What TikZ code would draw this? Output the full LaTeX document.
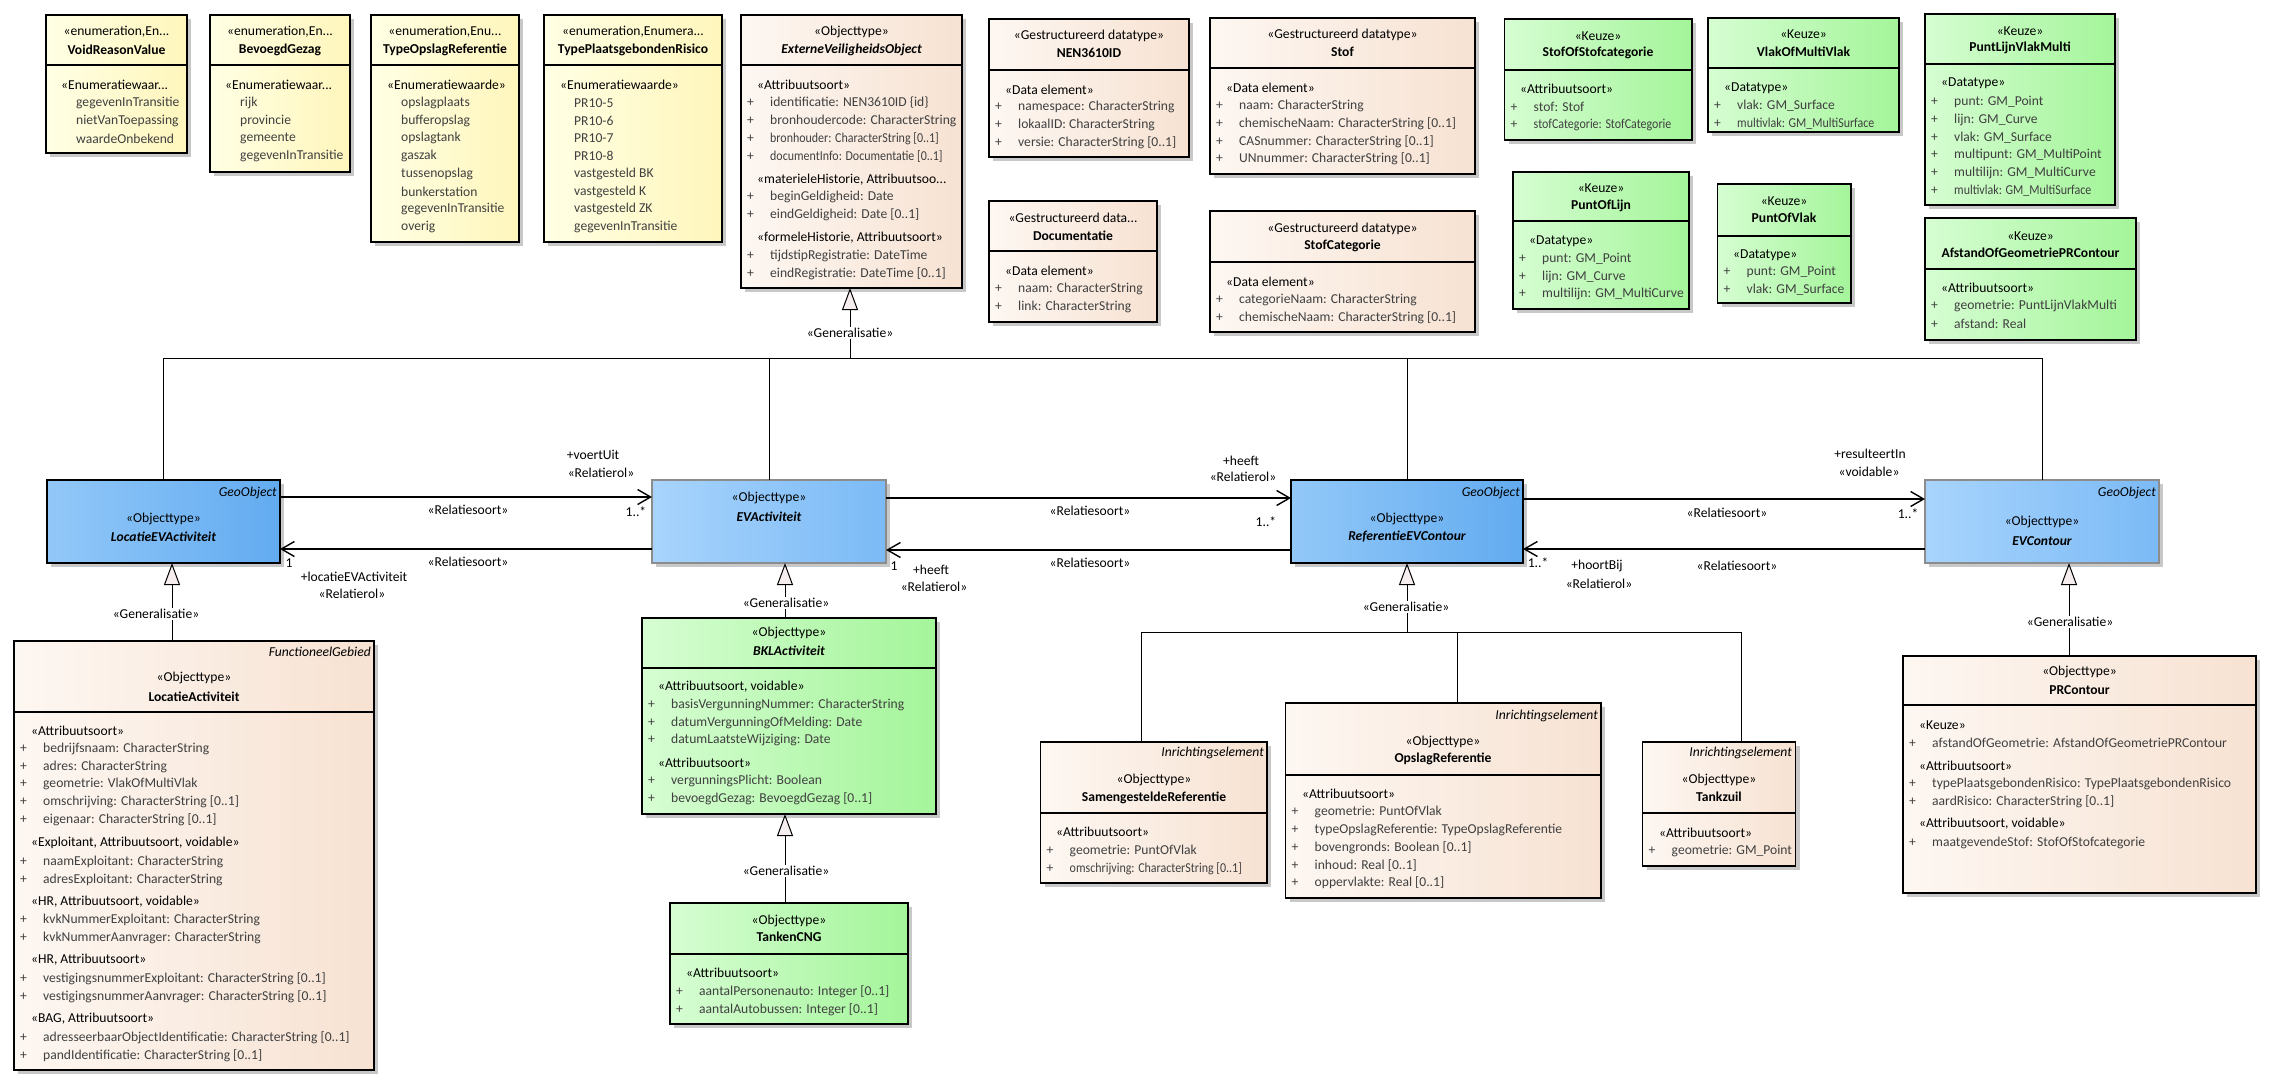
\documentclass[tikz,border=0pt]{standalone}
\usepackage{fontspec}
\setmainfont{Carlito}
\newfontfamily\nf[FakeStretch=0.88]{Carlito}
\usetikzlibrary{arrows.meta,calc}
\definecolor{enumL}{HTML}{FFFFE4}
\definecolor{enumR}{HTML}{FFF6BC}
\definecolor{brL}{HTML}{FDF7F2}
\definecolor{brR}{HTML}{F7E2D2}
\definecolor{grL}{HTML}{D6FDD2}
\definecolor{grR}{HTML}{A4F59A}
\definecolor{bdL}{HTML}{92C8F8}
\definecolor{bdR}{HTML}{62ABF0}
\definecolor{blL}{HTML}{A8D4FC}
\definecolor{blR}{HTML}{7BBAF6}
\definecolor{shad}{HTML}{C8C8C8}
\definecolor{genfill}{HTML}{F6EEEE}
\definecolor{attrc}{HTML}{404040}
\newcommand\dfont{\fontsize{13.6}{16}\selectfont}
\newcommand\ubox[6]{%
  \fill[shad] ({#3+4},{#4+4}) rectangle ++(#5,#6);
  \node[#2, minimum width=#5pt, minimum height=#6pt] (#1) at (#3,#4) {};}
\newcommand\udiv[2]{\draw[divl] ($(#1.north west)+(0,#2)$) -- ($(#1.north east)+(0,#2)$);}
\newcommand\attrs[4]{%
  \foreach \itm [count=\i] in {#4}{%
    \node[attr] (#1\i) at ({#2},{#3+17.7*(\i-1)}) {\makebox[23pt][l]{+}\itm};}}
\newcommand\vals[4]{%
  \foreach \itm [count=\i] in {#4}{%
    \node[val] (#1\i) at ({#2},{#3+17.7*(\i-1)}) {\itm};}}
\begin{document}
\begin{tikzpicture}[x=1pt,y=-1pt,
  box/.style={draw=black, line width=1.3pt, inner sep=0pt, outer sep=0pt, anchor=north west},
  enumbox/.style={box, left color=enumL, right color=enumR},
  brbox/.style={box, left color=brL, right color=brR},
  grbox/.style={box, left color=grL, right color=grR},
  bdbox/.style={box, left color=bdL, right color=bdR},
  blbox/.style={box, draw=black!45, left color=blL, right color=blR},
  divl/.style={line width=1.3pt},
  attr/.style={anchor=west, inner sep=0pt, font=\dfont, text=attrc},
  val/.style={anchor=west, inner sep=0pt, font=\dfont, text=attrc},
  sect/.style={anchor=west, inner sep=0pt, font=\dfont},
  stereo/.style={inner sep=0pt, font=\dfont},
  cname/.style={inner sep=0pt, font=\dfont\bfseries},
  aname/.style={inner sep=0pt, font=\dfont\bfseries\itshape},
  tag/.style={anchor=east, inner sep=0pt, font=\dfont\itshape},
  lbl/.style={inner sep=1pt, font=\dfont},
  glbl/.style={inner sep=1.5pt, font=\dfont, fill=white},
  assoc/.style={line width=1.4pt, -{Straight Barb[length=13pt,width=15pt,line width=1.4pt]}},
  gen/.style={line width=1pt, -{Triangle[length=22pt,width=16pt,fill=genfill,line width=1pt]}},
  genl/.style={line width=1pt}
]
\useasboundingbox (0,0) rectangle (2281,1089);
\fill[white] (0,0) rectangle (2281,1089);

% ---------- enumerations
\ubox{void}{enumbox}{46}{15}{141}{138}\udiv{void}{50}
\node[stereo] (void-s) at (116.5,32) {«enumeration,En...};
\node[cname] (void-n) at (116.5,50) {VoidReasonValue};
\node[sect] (void-h) at (61,85) {«Enumeratiewaar...};
\vals{void-v}{76}{103}{gegevenInTransitie,nietVanToepassing,waardeOnbekend}

\ubox{bev}{enumbox}{210}{15}{140}{157}\udiv{bev}{50}
\node[stereo] (bev-s) at (280,32) {«enumeration,En...};
\node[cname] (bev-n) at (280,50) {BevoegdGezag};
\node[sect] (bev-h) at (225,85) {«Enumeratiewaar...};
\vals{bev-v}{240}{103}{rijk,provincie,gemeente,gegevenInTransitie}

\ubox{tor}{enumbox}{371}{15}{148}{227}\udiv{tor}{50}
\node[stereo] (tor-s) at (445,32) {«enumeration,Enu...};
\node[cname] (tor-n) at (445,50) {TypeOpslagReferentie};
\node[sect] (tor-h) at (387,85) {«Enumeratiewaarde»};
\vals{tor-v}{401}{103}{opslagplaats,bufferopslag,opslagtank,gaszak,tussenopslag,bunkerstation,gegevenInTransitie,overig}

\ubox{tpr}{enumbox}{544}{15}{178}{227}\udiv{tpr}{50}
\node[stereo] (tpr-s) at (633,32) {«enumeration,Enumera...};
\node[cname] (tpr-n) at (633,50) {TypePlaatsgebondenRisico};
\node[sect] (tpr-h) at (560,85) {«Enumeratiewaarde»};
\vals{tpr-v}{574}{103}{PR10-5,PR10-6,PR10-7,PR10-8,vastgesteld BK,vastgesteld K,vastgesteld ZK,gegevenInTransitie}

% ---------- ExterneVeiligheidsObject
\ubox{evo}{brbox}{741}{15}{221}{273}\udiv{evo}{50}
\node[stereo] (evo-s) at (851.5,32) {«Objecttype»};
\node[aname] (evo-n) at (851.5,50) {ExterneVeiligheidsObject};
\node[sect] (evo-h1) at (757,85) {«Attribuutsoort»};
\attrs{evo-a}{747}{103}{identificatie: NEN3610ID \{id\},bronhoudercode: CharacterString,\nf bronhouder: CharacterString [0..1],\nf documentInfo: Documentatie [0..1]}
\node[sect] (evo-h2) at (757,180) {«materieleHistorie, Attribuutsoo...};
\attrs{evo-b}{747}{197}{beginGeldigheid: Date,eindGeldigheid: Date [0..1]}
\node[sect] (evo-h3) at (757,238) {«formeleHistorie, Attribuutsoort»};
\attrs{evo-c}{747}{256}{tijdstipRegistratie: DateTime,eindRegistratie: DateTime [0..1]}

% ---------- datatypes
\ubox{nen}{brbox}{989}{19}{200}{138}\udiv{nen}{51}
\node[stereo] (nen-s) at (1089,36) {«Gestructureerd datatype»};
\node[cname] (nen-n) at (1089,53) {NEN3610ID};
\node[sect] (nen-h) at (1005,90) {«Data element»};
\attrs{nen-a}{995}{107}{namespace: CharacterString,lokaalID: CharacterString,versie: CharacterString [0..1]}

\ubox{stof}{brbox}{1210}{18}{265}{156}\udiv{stof}{50}
\node[stereo] (stof-s) at (1342.5,35) {«Gestructureerd datatype»};
\node[cname] (stof-n) at (1342.5,52) {Stof};
\node[sect] (stof-h) at (1226,88) {«Data element»};
\attrs{stof-a}{1216}{106}{naam: CharacterString,chemischeNaam: CharacterString [0..1],CASnummer: CharacterString [0..1],UNnummer: CharacterString [0..1]}

\ubox{doc}{brbox}{989}{201}{168}{121}\udiv{doc}{50}
\node[stereo] (doc-s) at (1073,218) {«Gestructureerd data...};
\node[cname] (doc-n) at (1073,236) {Documentatie};
\node[sect] (doc-h) at (1005,271) {«Data element»};
\attrs{doc-a}{995}{289}{naam: CharacterString,link: CharacterString}

\ubox{stc}{brbox}{1210}{211}{265}{121}\udiv{stc}{51}
\node[stereo] (stc-s) at (1342.5,229) {«Gestructureerd datatype»};
\node[cname] (stc-n) at (1342.5,246) {StofCategorie};
\node[sect] (stc-h) at (1226,282) {«Data element»};
\attrs{stc-a}{1216}{300}{categorieNaam: CharacterString,chemischeNaam: CharacterString [0..1]}

% ---------- Keuze
\ubox{sos}{grbox}{1504.5}{19}{187.5}{121}\udiv{sos}{51}
\node[stereo] (sos-s) at (1598,36) {«Keuze»};
\node[cname] (sos-n) at (1598,53) {StofOfStofcategorie};
\node[sect] (sos-h) at (1520,89) {«Attribuutsoort»};
\attrs{sos-a}{1510.5}{107}{stof: Stof,\nf stofCategorie: StofCategorie}

\ubox{vmv}{grbox}{1708}{18}{191}{114}\udiv{vmv}{50}
\node[stereo] (vmv-s) at (1803.5,34) {«Keuze»};
\node[cname] (vmv-n) at (1803.5,52) {VlakOfMultiVlak};
\node[sect] (vmv-h) at (1724,88) {«Datatype»};
\attrs{vmv-a}{1714}{106}{vlak: GM\_Surface,\nf multivlak: GM\_MultiSurface}

\ubox{plvm}{grbox}{1925}{14}{190}{191}\udiv{plvm}{50}
\node[stereo] (plvm-s) at (2020,31) {«Keuze»};
\node[cname] (plvm-n) at (2020,48) {PuntLijnVlakMulti};
\node[sect] (plvm-h) at (1941,83) {«Datatype»};
\attrs{plvm-a}{1931}{102}{punt: GM\_Point,lijn: GM\_Curve,vlak: GM\_Surface,multipunt: GM\_MultiPoint,multilijn: GM\_MultiCurve,\nf multivlak: GM\_MultiSurface}

\ubox{pol}{grbox}{1513}{172}{176}{137}\udiv{pol}{49}
\node[stereo] (pol-s) at (1601,188) {«Keuze»};
\node[cname] (pol-n) at (1601,206) {PuntOfLijn};
\node[sect] (pol-h) at (1529,241) {«Datatype»};
\attrs{pol-a}{1519}{259}{punt: GM\_Point,lijn: GM\_Curve,multilijn: GM\_MultiCurve}

\ubox{pov}{grbox}{1717.5}{184}{133.5}{119}\udiv{pov}{52}
\node[stereo] (pov-s) at (1784,201) {«Keuze»};
\node[cname] (pov-n) at (1784,218) {PuntOfVlak};
\node[sect] (pov-h) at (1733,255) {«Datatype»};
\attrs{pov-a}{1723.5}{272}{punt: GM\_Point,vlak: GM\_Surface}

\ubox{afst}{grbox}{1925}{218}{211}{122}\udiv{afst}{51}
\node[stereo] (afst-s) at (2030.5,236) {«Keuze»};
\node[cname] (afst-n) at (2030.5,253) {AfstandOfGeometriePRContour};
\node[sect] (afst-h) at (1941,288) {«Attribuutsoort»};
\attrs{afst-a}{1931}{306}{geometrie: PuntLijnVlakMulti,afstand: Real}

% ---------- middle row (blue)
\ubox{locev}{bdbox}{47}{480}{233}{83}
\node[tag] (locev-t) at (277,493) {GeoObject};
\node[stereo] (locev-s) at (163.5,519) {«Objecttype»};
\node[aname] (locev-n) at (163.5,537) {LocatieEVActiviteit};

\ubox{ev}{blbox}{652}{480}{234}{83}
\node[stereo] (ev-s) at (769,498) {«Objecttype»};
\node[aname] (ev-n) at (769,517) {EVActiviteit};

\ubox{ref}{bdbox}{1291}{480}{232}{83}
\node[tag] (ref-t) at (1520,493) {GeoObject};
\node[stereo] (ref-s) at (1407,519) {«Objecttype»};
\node[aname] (ref-n) at (1407,537) {ReferentieEVContour};

\ubox{evc}{blbox}{1925}{480}{234}{83}
\node[tag] (evc-t) at (2156,493) {GeoObject};
\node[stereo] (evc-s) at (2042,522) {«Objecttype»};
\node[aname] (evc-n) at (2042,541) {EVContour};

% ---------- LocatieActiviteit
\ubox{locact}{brbox}{14}{641}{360}{429}\udiv{locact}{71}
\node[tag] (locact-t) at (371,652) {FunctioneelGebied};
\node[stereo] (locact-s) at (194,678) {«Objecttype»};
\node[cname] (locact-n) at (194,697) {LocatieActiviteit};
\node[sect] (la-h1) at (31,731) {«Attribuutsoort»};
\attrs{la-a}{20}{749}{bedrijfsnaam: CharacterString,adres: CharacterString,geometrie: VlakOfMultiVlak,omschrijving: CharacterString [0..1],eigenaar: CharacterString [0..1]}
\node[sect] (la-h2) at (31,843) {«Exploitant, Attribuutsoort, voidable»};
\attrs{la-b}{20}{862}{naamExploitant: CharacterString,adresExploitant: CharacterString}
\node[sect] (la-h3) at (31,902) {«HR, Attribuutsoort, voidable»};
\attrs{la-c}{20}{920}{kvkNummerExploitant: CharacterString,kvkNummerAanvrager: CharacterString}
\node[sect] (la-h4) at (31,960) {«HR, Attribuutsoort»};
\attrs{la-d}{20}{979}{vestigingsnummerExploitant: CharacterString [0..1],vestigingsnummerAanvrager: CharacterString [0..1]}
\node[sect] (la-h5) at (31,1019) {«BAG, Attribuutsoort»};
\attrs{la-e}{20}{1038}{adresseerbaarObjectIdentificatie: CharacterString [0..1],pandIdentificatie: CharacterString [0..1]}

% ---------- BKLActiviteit, TankenCNG
\ubox{bkl}{grbox}{642}{618}{294}{196}\udiv{bkl}{50}
\node[stereo] (bkl-s) at (789,633) {«Objecttype»};
\node[aname] (bkl-n) at (789,651) {BKLActiviteit};
\node[sect] (bkl-h1) at (658,687) {«Attribuutsoort, voidable»};
\attrs{bkl-a}{648}{705}{basisVergunningNummer: CharacterString,datumVergunningOfMelding: Date,datumLaatsteWijziging: Date}
\node[sect] (bkl-h2) at (658,763) {«Attribuutsoort»};
\attrs{bkl-b}{648}{781}{vergunningsPlicht: Boolean,bevoegdGezag: BevoegdGezag [0..1]}

\ubox{cng}{grbox}{670}{903}{238}{121}\udiv{cng}{51}
\node[stereo] (cng-s) at (789,921) {«Objecttype»};
\node[cname] (cng-n) at (789,937) {TankenCNG};
\node[sect] (cng-h) at (686,973) {«Attribuutsoort»};
\attrs{cng-a}{676}{992}{aantalPersonenauto: Integer [0..1],aantalAutobussen: Integer [0..1]}

% ---------- Referentie children
\ubox{sam}{brbox}{1040.5}{742}{226.5}{141}\udiv{sam}{71}
\node[tag] (sam-t) at (1264,753) {Inrichtingselement};
\node[stereo] (sam-s) at (1154,780) {«Objecttype»};
\node[cname] (sam-n) at (1154,798) {SamengesteldeReferentie};
\node[sect] (sam-h) at (1056,832) {«Attribuutsoort»};
\attrs{sam-a}{1046.5}{851}{geometrie: PuntOfVlak,\nf omschrijving: CharacterString [0..1]}

\ubox{ops}{brbox}{1285.5}{703}{315.5}{195}\udiv{ops}{72}
\node[tag] (ops-t) at (1598,716) {Inrichtingselement};
\node[stereo] (ops-s) at (1443,742) {«Objecttype»};
\node[cname] (ops-n) at (1443,759) {OpslagReferentie};
\node[sect] (ops-h) at (1302,794) {«Attribuutsoort»};
\attrs{ops-a}{1291.5}{812}{geometrie: PuntOfVlak,typeOpslagReferentie: TypeOpslagReferentie,bovengronds: Boolean [0..1],inhoud: Real [0..1],oppervlakte: Real [0..1]}

\ubox{tz}{brbox}{1642.5}{742}{153}{124}\udiv{tz}{71}
\node[tag] (tz-t) at (1792,753) {Inrichtingselement};
\node[stereo] (tz-s) at (1719,780) {«Objecttype»};
\node[cname] (tz-n) at (1719,797) {Tankzuil};
\node[sect] (tz-h) at (1659,833) {«Attribuutsoort»};
\attrs{tz-a}{1648.5}{851}{geometrie: GM\_Point}

\ubox{prc}{brbox}{1903}{656}{353}{237}\udiv{prc}{49}
\node[stereo] (prc-s) at (2079.5,672) {«Objecttype»};
\node[cname] (prc-n) at (2079.5,690) {PRContour};
\node[sect] (prc-h1) at (1919,725) {«Keuze»};
\attrs{prc-a}{1909}{743}{afstandOfGeometrie: AfstandOfGeometriePRContour}
\node[sect] (prc-h2) at (1919,766) {«Attribuutsoort»};
\attrs{prc-b}{1909}{784}{typePlaatsgebondenRisico: TypePlaatsgebondenRisico,aardRisico: CharacterString [0..1]}
\node[sect] (prc-h3) at (1919,824) {«Attribuutsoort, voidable»};
\attrs{prc-c}{1909}{843}{maatgevendeStof: StofOfStofcategorie}

% ---------- generalisations
\coordinate (busA) at (850,358);
\draw[genl] (locev.north) |- (busA);
\draw[genl] (ev.north) |- (busA);
\draw[genl] (ref.north) |- (busA);
\draw[genl] (evc.north) |- (busA);
\draw[gen] (busA) -- (busA |- evo.south);
\node[glbl] (g0) at (850,333) {«Generalisatie»};

\coordinate (gx1) at (172,0);
\draw[gen] (locact.north -| gx1) -- (locev.south -| gx1);
\node[glbl] (g1) at (156,614) {«Generalisatie»};

\coordinate (gx2) at (785,0);
\draw[gen] (bkl.north -| gx2) -- (ev.south -| gx2);
\node[glbl] (g2) at (786,603) {«Generalisatie»};
\draw[gen] (cng.north -| gx2) -- (bkl.south -| gx2);
\node[glbl] (g3) at (786,871) {«Generalisatie»};

\coordinate (busB) at (1407,632);
\coordinate (gx3) at (1141.5,0);
\coordinate (gx4) at (1457,0);
\coordinate (gx5) at (1741,0);
\draw[genl] (sam.north -| gx3) |- (busB);
\draw[genl] (ops.north -| gx4) |- (busB);
\draw[genl] (tz.north -| gx5) |- (busB);
\draw[gen] (busB) -- (busB |- ref.south);
\node[glbl] (g4) at (1406,607) {«Generalisatie»};

\coordinate (gx6) at (2069,0);
\draw[gen] (prc.north -| gx6) -- (evc.south -| gx6);
\node[glbl] (g5) at (2070,622) {«Generalisatie»};

% ---------- associations
\draw[assoc] ([yshift=-17pt]locev.north east) -- ([yshift=-17pt]ev.north west);
\draw[assoc] ([yshift=-69pt]ev.north west) -- ([yshift=-69pt]locev.north east);
\draw[assoc] ([yshift=-18pt]ev.north east) -- ([yshift=-18pt]ref.north west);
\draw[assoc] ([yshift=-70pt]ref.north west) -- ([yshift=-70pt]ev.north east);
\draw[assoc] ([yshift=-19pt]ref.north east) -- ([yshift=-19pt]evc.north west);
\draw[assoc] ([yshift=-69pt]evc.north west) -- ([yshift=-69pt]ref.north east);

\node[lbl] (r1a) at (593,455) {+voertUit};
\node[lbl] (r1b) at (601,473) {«Relatierol»};
\node[lbl] (r1c) at (468,510) {«Relatiesoort»};
\node[lbl] (r1d) at (636,512) {1..*};
\node[lbl] (r2c) at (468,562) {«Relatiesoort»};
\node[lbl] (r2d) at (289,563) {1};
\node[lbl] (r2a) at (354,577) {+locatieEVActiviteit};
\node[lbl] (r2b) at (352,594) {«Relatierol»};
\node[lbl] (r3a) at (1241,461) {+heeft};
\node[lbl] (r3b) at (1243,477) {«Relatierol»};
\node[lbl] (r3c) at (1090,511) {«Relatiesoort»};
\node[lbl] (r3d) at (1266,522) {1..*};
\node[lbl] (r4d) at (894,566) {1};
\node[lbl] (r4a) at (931,570) {+heeft};
\node[lbl] (r4b) at (934,587) {«Relatierol»};
\node[lbl] (r4c) at (1090,563) {«Relatiesoort»};
\node[lbl] (r5a) at (1870,454) {+resulteertIn};
\node[lbl] (r5b) at (1869,472) {«voidable»};
\node[lbl] (r5c) at (1727,513) {«Relatiesoort»};
\node[lbl] (r5d) at (1908,514) {1..*};
\node[lbl] (r6d) at (1538,563) {1..*};
\node[lbl] (r6a) at (1597,566) {+hoortBij};
\node[lbl] (r6b) at (1599,584) {«Relatierol»};
\node[lbl] (r6c) at (1737,566) {«Relatiesoort»};
\end{tikzpicture}
\end{document}
